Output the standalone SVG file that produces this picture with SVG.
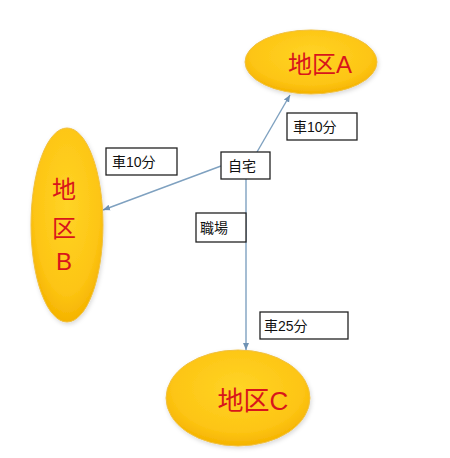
<svg xmlns="http://www.w3.org/2000/svg" width="450" height="458" viewBox="0 0 450 458">
<defs>
<radialGradient id="g" cx="50%" cy="40%" r="60%">
<stop offset="0" stop-color="#ffd426"/>
<stop offset="0.75" stop-color="#fdc514"/>
<stop offset="1" stop-color="#f5b300"/>
</radialGradient>
<filter id="sh" x="-10%" y="-10%" width="120%" height="130%">
<feDropShadow dx="1" dy="2" stdDeviation="2" flood-color="#000" flood-opacity="0.15"/>
</filter>
<marker id="ar" markerWidth="8" markerHeight="8" refX="7" refY="4" orient="auto" markerUnits="userSpaceOnUse">
<path d="M0,1 L7,4 L0,7 z" fill="#6f92b4"/>
</marker>
</defs>
<style>
.blob{fill:url(#g);stroke:#f0c040;stroke-width:1;filter:url(#sh)}
.big{font-family:"Liberation Sans","Noto Sans CJK JP",sans-serif;font-size:24px;fill:#d8151b;text-anchor:middle}
.box{fill:#fff;stroke:#222;stroke-width:1.3}
.lbl{font-family:"Liberation Sans","Noto Sans CJK JP",sans-serif;font-size:14px;fill:#111}
.con{stroke:#7fa1c0;stroke-width:1.4;fill:none;marker-end:url(#ar)}
</style>
<rect width="450" height="458" fill="#fff"/>
<g id="connectors">
<line class="con" x1="257" y1="152" x2="290" y2="95"/>
<line class="con" x1="221" y1="166" x2="103" y2="210"/>
<line class="con" x1="246" y1="179" x2="246" y2="350"/>
</g>
<g id="areaA">
<ellipse class="blob" cx="311" cy="62" rx="66" ry="32"/>
<text class="big" x="320" y="73">地区A</text>
</g>
<g id="areaB">
<ellipse class="blob" cx="67" cy="225" rx="36" ry="97"/>
<text class="big" x="64" y="198">地</text>
<text class="big" x="64" y="237">区</text>
<text class="big" x="64" y="270">B</text>
</g>
<g id="areaC">
<ellipse class="blob" cx="238" cy="398" rx="72" ry="48"/>
<text class="big" x="253" y="410" style="font-size:26px">地区C</text>
</g>
<g id="home">
<rect class="box" x="221" y="152" width="49" height="27"/>
<text class="lbl" x="228" y="171">自宅</text>
</g>
<g id="labelA">
<rect class="box" x="287" y="113" width="70" height="27"/>
<text class="lbl" x="293" y="132">車10分</text>
</g>
<g id="labelB">
<rect class="box" x="106" y="148" width="71" height="27"/>
<text class="lbl" x="112" y="167">車10分</text>
</g>
<g id="work">
<rect class="box" x="196" y="213" width="50" height="29"/>
<text class="lbl" x="200" y="233">職場</text>
</g>
<g id="labelC">
<rect class="box" x="260" y="312" width="88" height="27"/>
<text class="lbl" x="264" y="331">車25分</text>
</g>
</svg>
